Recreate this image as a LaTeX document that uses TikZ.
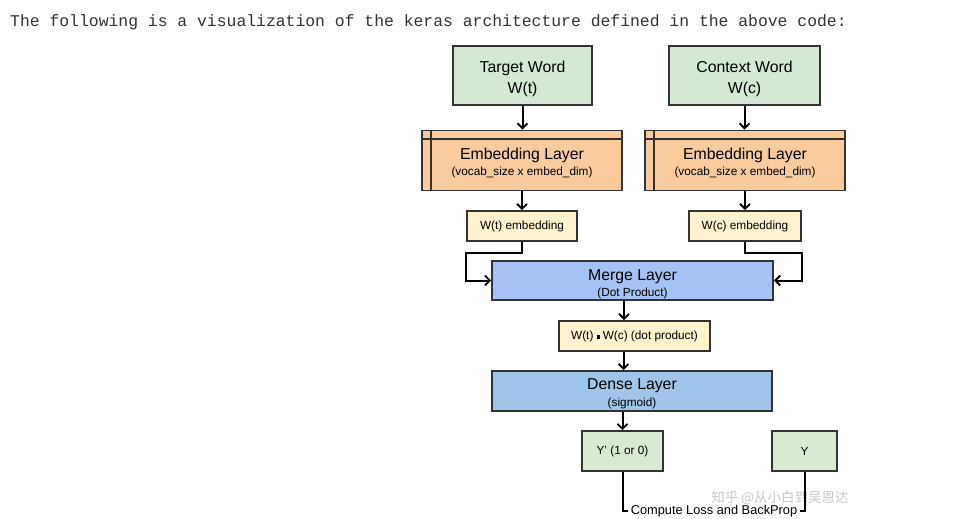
\documentclass[tikz,border=0pt]{standalone}
\usepackage{fontspec}
\setmainfont{Liberation Sans}
\setmonofont{Liberation Mono}
\newfontfamily\cjk{Noto Sans CJK SC}
\usetikzlibrary{arrows.meta}
\definecolor{bordergray}{HTML}{333333}
\definecolor{wordgreen}{HTML}{D5E8D4}
\definecolor{ygreen}{HTML}{D9EAD3}
\definecolor{embOrange}{HTML}{F9CB9C}
\definecolor{embYellow}{HTML}{FFF2CC}
\definecolor{mergeBlue}{HTML}{A4C2F4}
\definecolor{denseBlue}{HTML}{9FC5E8}
\definecolor{marks}{HTML}{C8C8C8}
\newcommand{\bigt}{\fontsize{15.8}{19}\selectfont}
\newcommand{\smallt}{\fontsize{11.8}{14}\selectfont}
\tikzset{
  box/.style={draw=bordergray, line width=1.9pt, inner sep=0pt, align=center},
  lbl/.style={inner sep=0pt, align=center, font=\bigt},
  arr/.style={draw=black, line width=2pt, -{Straight Barb[length=5pt,width=10pt,line width=1.8pt]}},
  plainline/.style={draw=black, line width=2pt},
}
\begin{document}
\begin{tikzpicture}[x=1pt,y=-1pt]
\useasboundingbox[fill=white] (0,0) rectangle (966,519);

\node[anchor=base west, font=\ttfamily\fontsize{16.4}{18}\selectfont, text=bordergray, inner sep=0pt] (hdr) at (10,27)
  {The following is a visualization of the keras architecture defined in the above code:};

% input words
\node[box, fill=wordgreen, minimum width=139pt, minimum height=59pt] (tw) at (522.5,75.5) {};
\node[lbl, anchor=base] (twl) at (522.5,93) {Target Word\\[2pt]W(t)};
\node[box, fill=wordgreen, minimum width=151pt, minimum height=59pt] (cw) at (744.5,75.5) {};
\node[lbl, anchor=base] (cwl) at (744.5,93) {Context Word\\[2pt]W(c)};

% embedding layers
\node[box, fill=embOrange, minimum width=200pt, minimum height=60pt] (el) at (522,160.5) {};
\node[lbl, anchor=base] (ell) at (522,175) {Embedding Layer\\[-3pt]\smallt (vocab\_size x embed\_dim)};
\node[box, fill=embOrange, minimum width=200pt, minimum height=60pt] (er) at (745,160.5) {};
\node[lbl, anchor=base] (erl) at (745,175) {Embedding Layer\\[-3pt]\smallt (vocab\_size x embed\_dim)};
\foreach \n in {el,er}{
  \draw[bordergray, line width=1.3pt] ([xshift=10pt]\n.north west) -- ([xshift=10pt]\n.south west);
  \draw[bordergray, line width=1.3pt] ([yshift=-9.5pt]\n.north west) -- ([yshift=-9.5pt]\n.north east);
}

% embeddings
\node[box, fill=embYellow, minimum width=110pt, minimum height=30pt, font=\smallt] (wte) at (522,226)
  {W(t) embedding};
\node[box, fill=embYellow, minimum width=112pt, minimum height=30pt, font=\smallt] (wce) at (745,226)
  {W(c) embedding};

% merge
\node[box, fill=mergeBlue, minimum width=281pt, minimum height=39pt] (merge) at (632.5,280.5) {};
\node[lbl, anchor=base] (mergel) at (632.5,296) {Merge Layer\\[-3pt]\smallt (Dot Product)};

% dot product
\node[box, fill=embYellow, minimum width=151pt, minimum height=30pt, font=\smallt] (dot) at (634.5,336)
  {W(t) \raisebox{0.3pt}{\rule{2.8pt}{3.6pt}} W(c) (dot product)};

% dense
\node[box, fill=denseBlue, minimum width=280pt, minimum height=40pt] (dense) at (632,391) {};
\node[lbl, anchor=base] (densel) at (632,406) {Dense Layer\\[-2pt]\smallt (sigmoid)};

% outputs
\node[box, fill=ygreen, minimum width=81pt, minimum height=40pt, font=\smallt] (yp) at (622.5,451)
  {Y' (1 or 0)};
\node[box, fill=ygreen, minimum width=65pt, minimum height=40pt, font=\smallt] (y) at (804.5,451)
  {Y};

% loss label
\node[font=\fontsize{12.8}{15}\selectfont, inner xsep=3pt, inner ysep=0pt] (loss) at (714,511)
  {Compute Loss and BackProp};

% watermark
\node[font=\cjk\fontsize{13.5}{16}\selectfont, text=marks, inner sep=0pt] (wm) at (780,498)
  {知乎 @从小白到吴恩达};

% connectors
\draw[arr] (tw.south) -- (tw.south |- el.north);
\draw[arr] (cw.south) -- (cw.south |- er.north);
\draw[arr] (el.south) -- (el.south |- wte.north);
\draw[arr] (er.south) -- (er.south |- wce.north);
\draw[arr] (wte.south) -- ++(0,11) -| (wte.west |- merge.west) -- (merge.west);
\draw[arr] (wce.south) -- ++(0,11) -| (wce.east |- merge.east) -- (merge.east);
\draw[arr] ([xshift=-10.5pt]dot.north |- merge.south) -- ([xshift=-10.5pt]dot.north);
\draw[arr] ([xshift=-11pt]dot.south) -- ([xshift=-11pt]dot.south |- dense.north);
\draw[arr] (yp.north |- dense.south) -- (yp.north);
\draw[plainline] (yp.south) |- (loss.west);
\draw[plainline] (y.south) |- (loss.east);
\end{tikzpicture}
\end{document}
